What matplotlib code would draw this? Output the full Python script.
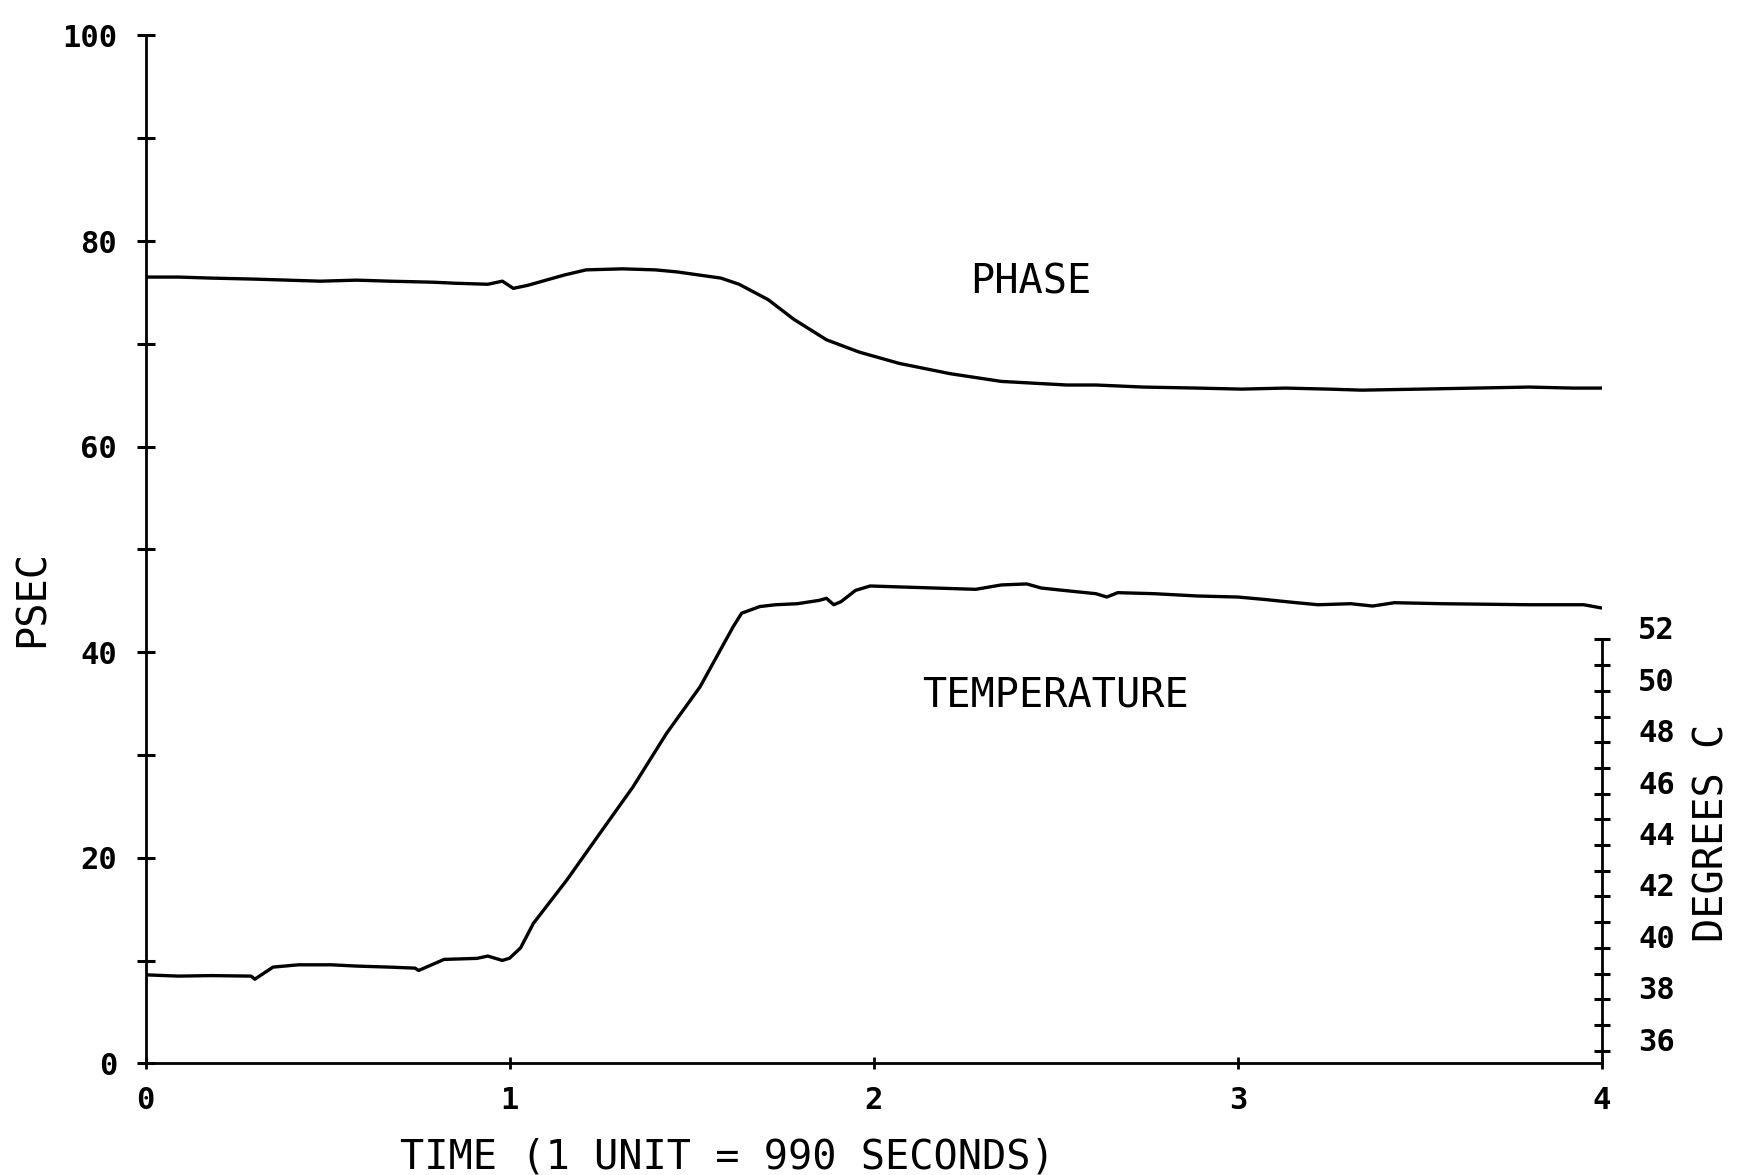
import matplotlib
matplotlib.use("Agg")
import matplotlib.pyplot as plt

# values
# phase delay, psec (left axis)
phase_t = [0, 0.09, 0.18, 0.30, 0.39, 0.48, 0.58, 0.67, 0.79, 0.85, 0.94, 0.98, 1.01,
           1.05, 1.09, 1.15, 1.21, 1.31, 1.40, 1.46, 1.52, 1.58, 1.63, 1.71, 1.78,
           1.87, 1.96, 2.07, 2.21, 2.35, 2.53, 2.61, 2.74, 2.89, 3.01, 3.13, 3.25,
           3.34, 3.50, 3.65, 3.80, 3.92, 4.0]
phase_ps = [76.5, 76.5, 76.4, 76.3, 76.2, 76.1, 76.2, 76.1, 76.0, 75.9, 75.8, 76.1, 75.4,
            75.7, 76.1, 76.7, 77.2, 77.3, 77.2, 77.0, 76.7, 76.4, 75.8, 74.3, 72.4,
            70.4, 69.2, 68.1, 67.1, 66.35, 66.0, 66.0, 65.8, 65.7, 65.6, 65.7, 65.6,
            65.5, 65.6, 65.7, 65.8, 65.7, 65.7]

# temperature, degrees C (right axis)
temp_t = [0, 0.09, 0.18, 0.29, 0.30, 0.35, 0.42, 0.51, 0.58, 0.67, 0.74, 0.75, 0.82,
          0.91, 0.94, 0.98, 1.0, 1.03, 1.065, 1.157, 1.248, 1.339, 1.431, 1.523, 1.614,
          1.637, 1.687, 1.73, 1.79, 1.85, 1.87, 1.89, 1.91, 1.95, 1.99, 2.10, 2.19,
          2.28, 2.35, 2.42, 2.46, 2.52, 2.61, 2.64, 2.67, 2.77, 2.89, 3.0, 3.07, 3.16,
          3.22, 3.31, 3.37, 3.43, 3.56, 3.80, 3.95, 4.0]
temp_c = [38.95, 38.9, 38.92, 38.9, 38.78, 39.25, 39.34, 39.34, 39.29, 39.25, 39.21,
          39.12, 39.55, 39.59, 39.68, 39.51, 39.6, 40.0, 40.95, 42.64, 44.46, 46.27,
          48.35, 50.16, 52.5, 53.02, 53.28, 53.35, 53.39, 53.52, 53.60, 53.35, 53.47,
          53.91, 54.08, 54.03, 53.99, 53.95, 54.12, 54.16, 54.0, 53.91, 53.78, 53.65,
          53.82, 53.78, 53.69, 53.65, 53.56, 53.43, 53.35, 53.39, 53.30, 53.43, 53.39,
          53.35, 53.35, 53.22]

time_ticks = [0, 1, 2, 3, 4]
psec_major = [0, 20, 40, 60, 80, 100]
psec_minor = [10, 30, 50, 70, 90]
degc_major = [36, 38, 40, 42, 44, 46, 48, 50, 52]
degc_minor = [37, 39, 41, 43, 45, 47, 49, 51]

plt.rcParams['font.family'] = ['DejaVu Sans Mono', 'DejaVu Sans']

fig = plt.figure(figsize=(17.37, 11.75), dpi=100)
ax = fig.add_axes([0.0838, 0.0949, 0.8385, 0.8749])

ax.plot(phase_t, phase_ps, color='black', lw=2.4)

ax.set_xlim(0, 4)
ax.set_ylim(0, 100)
for s in ['top', 'right']:
    ax.spines[s].set_visible(False)
for s in ['left', 'bottom']:
    ax.spines[s].set_linewidth(2.0)

ax.set_xticks(time_ticks, [str(v) for v in time_ticks])
ax.set_yticks(psec_major, [str(v) for v in psec_major])
ax.set_yticks(psec_minor, minor=True)
ax.tick_params(axis='x', direction='inout', length=9, width=2, pad=12, labelsize=22)
ax.tick_params(axis='y', which='both', direction='inout', length=13, width=2.2,
               pad=14, labelsize=22)
for lab in ax.get_xticklabels() + ax.get_yticklabels():
    lab.set_fontweight('bold')

# temperature on its own scale, 2.5 psec per degree
ax2 = ax.twinx()
ax2.plot(temp_t, temp_c, color='black', lw=2.4)
ax2.set_ylim(35.5, 75.5)
for s in ['top', 'left', 'bottom']:
    ax2.spines[s].set_visible(False)
ax2.spines['right'].set_linewidth(2.0)
ax2.spines['right'].set_bounds(35.5, 52)
ax2.set_yticks(degc_major, [str(v) for v in degc_major])
ax2.set_yticks(degc_minor, minor=True)
ax2.tick_params(axis='y', which='both', direction='inout', length=12, width=2.2,
                pad=20, labelsize=22)
for lab in ax2.get_yticklabels():
    lab.set_fontweight('bold')
    lab.set_verticalalignment('baseline')

ax.text(2.43, 76.0, 'PHASE', ha='center', va='center', fontsize=29)
ax.text(2.50, 35.8, 'TEMPERATURE', ha='center', va='center', fontsize=29)

fig.text(0.4185, 0.0145, 'TIME (1 UNIT = 990 SECONDS)', ha='center', va='center',
         fontsize=29)
fig.text(0.019, 0.491, 'PSEC', ha='center', va='center', rotation=90, fontsize=29)
fig.text(0.986, 0.291, 'DEGREES C', ha='center', va='center', rotation=90, fontsize=29)

fig.savefig('out.png', dpi=100)
